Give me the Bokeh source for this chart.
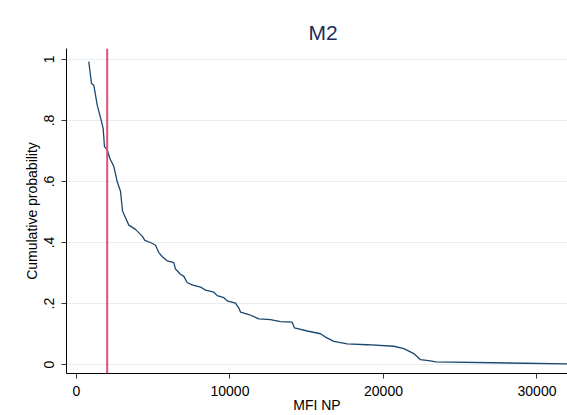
from bokeh.plotting import figure
from bokeh.models import FixedTicker, Span, Range1d
from bokeh.embed import file_html
from bokeh.resources import INLINE

# Data (MFI NP vs cumulative probability)
mfi = [800, 977, 1130, 1350, 1607, 1737, 1824, 2000, 2171, 2432, 2650, 2866, 3000,
       3192, 3410, 3843, 4280, 4453, 4821, 5147, 5363, 5580, 5906, 6340, 6450, 6775,
       6992, 7210, 7535, 8078, 8404, 8947, 9165, 9598, 9815, 10358, 10575, 10684,
       11227, 11879, 12638, 13290, 14050, 14202, 15030, 15896, 16221, 16764, 17635,
       18938, 20671, 21323, 21975, 22410, 23062, 23388, 31970]
cumprob = [0.993, 0.921, 0.915, 0.850, 0.801, 0.774, 0.714, 0.704, 0.676, 0.649, 0.600,
           0.568, 0.503, 0.481, 0.457, 0.443, 0.421, 0.407, 0.400, 0.391, 0.367, 0.354,
           0.340, 0.334, 0.313, 0.296, 0.289, 0.269, 0.261, 0.254, 0.244, 0.237, 0.226,
           0.219, 0.209, 0.201, 0.185, 0.172, 0.164, 0.150, 0.147, 0.141, 0.139, 0.120,
           0.110, 0.101, 0.090, 0.076, 0.068, 0.065, 0.060, 0.052, 0.036, 0.016, 0.012,
           0.009, 0.002]
cutoff = 2000
x_ticks = [0, 10000, 20000, 30000]
x_tick_labels = ["0", "10000", "20000", "30000"]
y_ticks = [0, 0.2, 0.4, 0.6, 0.8, 1.0]
y_tick_labels = ["0", ".2", ".4", ".6", ".8", "1"]

FONT = "Liberation Sans"

p = figure(width=567, height=415, output_backend="svg", toolbar_location=None,
           x_range=Range1d(-651, 31987), y_range=Range1d(-0.0293, 1.0358),
           min_border_left=66, min_border_right=0, min_border_top=48, min_border_bottom=40,
           title="M2", outline_line_color=None, background_fill_color="white",
           border_fill_color="white")

p.title.align = "left"
p.title.offset = 242
p.title.text_font = FONT
p.title.text_font_size = "21px"
p.title.text_font_style = "normal"
p.title.text_color = "#1e2d59"

p.line(mfi, cumprob, line_color="#1a476f", line_width=1.3)
p.add_layout(Span(location=cutoff, dimension="height", line_color="#dc5079", line_width=2))

p.xgrid.visible = False
p.ygrid.ticker = FixedTicker(ticks=y_ticks)
p.ygrid.grid_line_color = "#e6eef1"
p.ygrid.grid_line_width = 1

for ax in (p.xaxis[0], p.yaxis[0]):
    ax.axis_line_color = "black"
    ax.axis_line_width = 1
    ax.major_tick_line_color = "#333333"
    ax.major_tick_out = 5
    ax.major_tick_in = 0
    ax.minor_tick_line_color = None
    ax.major_label_text_font = FONT
    ax.major_label_text_font_size = "14px"
    ax.major_label_text_color = "black"
    ax.axis_label_text_font = FONT
    ax.axis_label_text_font_size = "14px"
    ax.axis_label_text_font_style = "normal"
    ax.axis_label_text_color = "black"

p.xaxis[0].ticker = FixedTicker(ticks=x_ticks)
p.xaxis[0].major_label_overrides = dict(zip(x_ticks, x_tick_labels))
p.xaxis[0].axis_label = "MFI NP"
p.xaxis[0].axis_label_standoff = -2
p.xaxis[0].major_label_standoff = 7

p.yaxis[0].ticker = FixedTicker(ticks=y_ticks)
p.yaxis[0].major_label_overrides = dict(zip(y_ticks, y_tick_labels))
p.yaxis[0].major_label_orientation = "vertical"
p.yaxis[0].axis_label = "Cumulative probability"
p.yaxis[0].axis_label_standoff = 2
p.yaxis[0].major_label_standoff = 7

open("out.html", "w").write(file_html(p, INLINE))
